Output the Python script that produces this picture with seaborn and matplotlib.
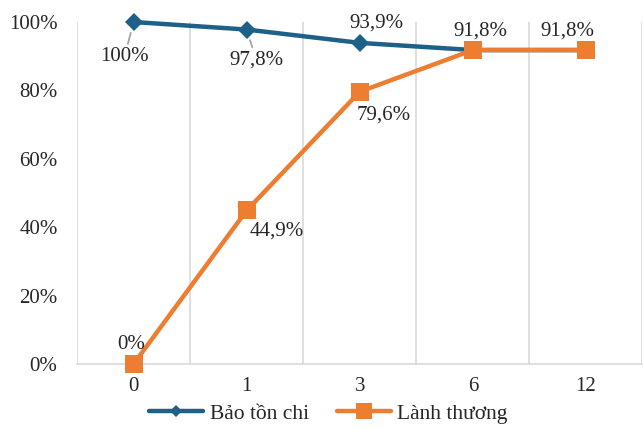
import matplotlib
matplotlib.use("Agg")
import matplotlib.pyplot as plt
from matplotlib.lines import Line2D
import seaborn as sns
import pandas as pd

months = ["0", "1", "3", "6", "12"]
bao_ton_chi = [100, 97.8, 93.9, 91.8, 91.8]
lanh_thuong = [0, 44.9, 79.6, 91.8, 91.8]
y_ticks = [0, 20, 40, 60, 80, 100]

BLUE = "#1D6088"
ORANGE = "#ED7D31"
TEXT = "#262626"

sns.set_theme(style="white")
plt.rcParams["font.family"] = ["Liberation Serif", "DejaVu Serif"]

df = pd.DataFrame({
    "pos": list(range(len(months))) * 2,
    "value": bao_ton_chi + lanh_thuong,
    "series": ["Bảo tồn chi"] * len(months) + ["Lành thương"] * len(months),
})

fig = plt.figure(figsize=(6.44, 4.29), dpi=100)
ax = fig.add_axes([0.1196, 0.1515, 0.878, 0.7972])

sns.lineplot(data=df, x="pos", y="value", hue="series", style="series",
             palette={"Bảo tồn chi": BLUE, "Lành thương": ORANGE},
             markers={"Bảo tồn chi": "D", "Lành thương": "s"},
             dashes=False, linewidth=3.2, ax=ax, legend=False,
             markeredgewidth=0, zorder=3)
for line in ax.lines:
    line.set_clip_on(False)
    if line.get_marker() == "D":
        line.set_markersize(8.8)
    else:
        line.set_markersize(12.8)

ax.set_xlim(-0.5, len(months) - 0.5)
ax.set_ylim(0, 100)
ax.set_xticks(range(len(months)))
ax.set_xticklabels(months)
ax.set_yticks(y_ticks)
ax.set_yticklabels([f"{t}%" for t in y_ticks])
ax.tick_params(axis="y", labelsize=15, colors=TEXT, length=0, pad=14)
ax.tick_params(axis="x", labelsize=15, colors=TEXT, length=0, pad=9)
ax.set_xlabel("")
ax.set_ylabel("")

# vertical gridlines between categories
for b in [i - 0.5 for i in range(len(months) + 1)]:
    ax.axvline(b, color="#D9D9D9", linewidth=1.2, zorder=0)
for s in ["top", "right", "left"]:
    ax.spines[s].set_visible(False)
ax.spines["bottom"].set_color("#D9D9D9")
ax.spines["bottom"].set_linewidth(1.2)

def fmt(v):
    s = f"{v:.1f}".replace(".", ",")
    if s.endswith(",0"):
        s = s[:-2]
    return s + "%"

txt = dict(fontsize=15, color=TEXT, ha="center", va="center")
leader = dict(arrowstyle="-", color="#A6A6A6", lw=1.3, shrinkA=0, shrinkB=8)

# Bảo tồn chi labels
ax.annotate(fmt(bao_ton_chi[0]), xy=(0, bao_ton_chi[0]), xytext=(-6.5, -25),
            textcoords="offset points", arrowprops=leader, **txt)
ax.annotate(fmt(bao_ton_chi[1]), xy=(1, bao_ton_chi[1]), xytext=(7, -22),
            textcoords="offset points", arrowprops=leader, **txt)
ax.annotate(fmt(bao_ton_chi[2]), xy=(2, bao_ton_chi[2]), xytext=(12, 14),
            textcoords="offset points", **txt)

# Lành thương labels
ax.annotate(fmt(lanh_thuong[0]), xy=(0, lanh_thuong[0]), xytext=(-1.5, 13.7),
            textcoords="offset points", **txt)
ax.annotate(fmt(lanh_thuong[1]), xy=(1, lanh_thuong[1]), xytext=(21.5, -14.5),
            textcoords="offset points", **txt)
ax.annotate(fmt(lanh_thuong[2]), xy=(2, lanh_thuong[2]), xytext=(17, -17),
            textcoords="offset points", **txt)
ax.annotate(fmt(lanh_thuong[3]), xy=(3, lanh_thuong[3]), xytext=(5.5, 13.5),
            textcoords="offset points", **txt)
ax.annotate(fmt(lanh_thuong[4]), xy=(4, lanh_thuong[4]), xytext=(-13, 13.5),
            textcoords="offset points", **txt)

handles = [
    Line2D([], [], color=BLUE, lw=3.2, marker="D", markersize=6.5, markeredgewidth=0),
    Line2D([], [], color=ORANGE, lw=3.2, marker="s", markersize=11, markeredgewidth=0),
]
fig.legend(handles, ["Bảo tồn chi", "Lành thương"], loc="center",
           bbox_to_anchor=(0.51, 0.035), ncol=2, frameon=False,
           fontsize=15.5, handlelength=2.5, handletextpad=0.3, columnspacing=1.3,
           labelcolor=TEXT)

fig.savefig("out.png", dpi=100, facecolor="white")
